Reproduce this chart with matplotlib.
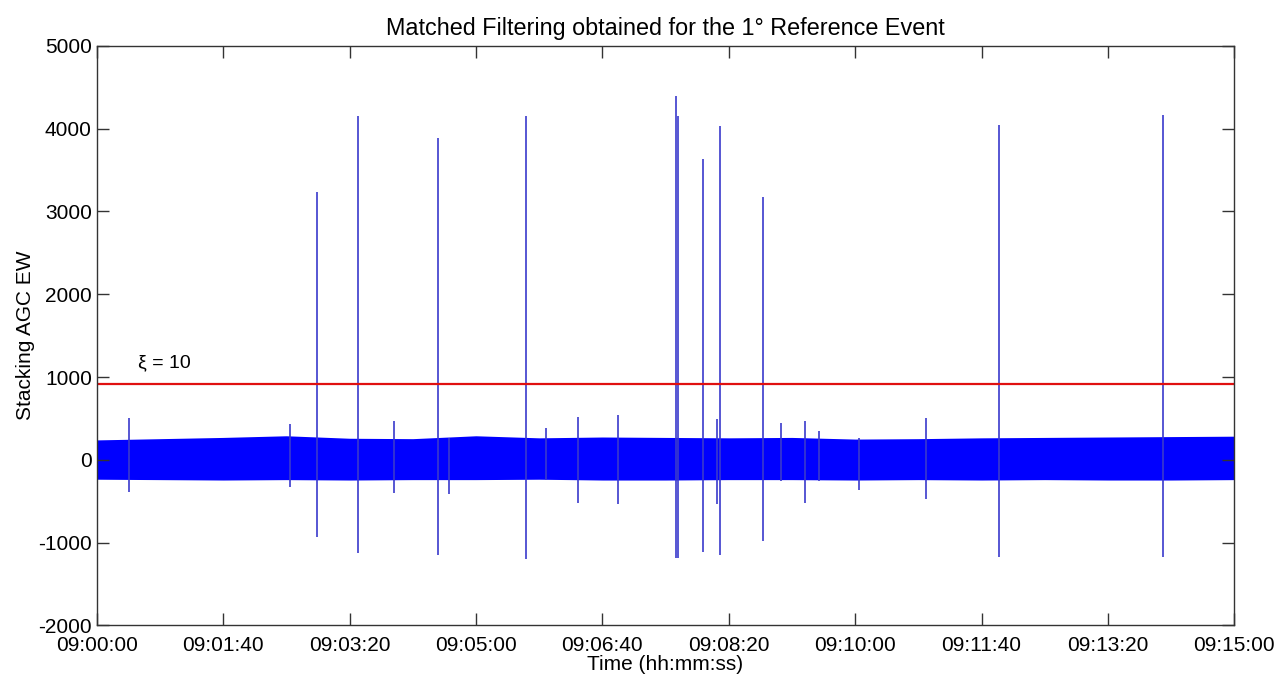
import matplotlib.pyplot as plt
import matplotlib.ticker as mticker

plt.rcParams['font.family'] = ['Liberation Sans', 'DejaVu Sans']
plt.rcParams['axes.unicode_minus'] = False

# time axis in seconds after 09:00:00
tick_secs = [0, 100, 200, 300, 400, 500, 600, 700, 800, 900]
tick_labels = ['09:00:00', '09:01:40', '09:03:20', '09:05:00', '09:06:40',
               '09:08:20', '09:10:00', '09:11:40', '09:13:20', '09:15:00']

# background noise band (outer envelope read every 50 s)
env_t = [0, 50, 100, 150, 200, 250, 300, 350, 400, 450,
         500, 550, 600, 650, 700, 750, 800, 850, 900]
env_hi = [240, 255, 270, 290, 260, 255, 290, 265, 275, 270,
          265, 270, 250, 255, 265, 270, 275, 280, 285]
env_lo = [-235, -240, -245, -240, -245, -240, -240, -235, -245, -245,
          -240, -240, -245, -240, -245, -240, -245, -245, -240]

# spikes: time (s), top value, bottom value
spike_t = [25.8, 152.9, 174.5, 207.0, 235.2, 270.3, 279.0, 339.6, 355.2, 380.8,
           412.4, 458.5, 460.1, 479.9, 491.0, 493.4, 526.9, 541.4, 560.1, 571.4,
           603.1, 656.1, 714.1, 843.8]
spike_hi = [500, 430, 3240, 4150, 470, 3890, 260, 4150, 380, 520,
            540, 4400, 4150, 3640, 490, 4030, 3170, 450, 470, 350,
            260, 500, 4040, 4160]
spike_lo = [-390, -330, -930, -1130, -400, -1150, -410, -1200, -250, -520,
            -530, -1190, -1190, -1120, -530, -1150, -985, -260, -520, -260,
            -370, -480, -1175, -1170]

threshold = 914
xi_value = 10

fig = plt.figure(figsize=(12.86, 6.79), dpi=100)
ax = fig.add_axes([0.0752, 0.0791, 0.8846, 0.8532])

ax.fill_between(env_t, env_lo, env_hi, color='#0000ff', linewidth=0)
ax.vlines(spike_t, spike_lo, spike_hi, color='#3a3acc', linewidth=1.2)
ax.axhline(threshold, color='#e01010', linewidth=1.6)
ax.text(33, 1170, '\u03be = %d' % xi_value, fontsize=14, va='center', ha='left')

ax.set_xlim(0, 900)
ax.set_ylim(-2000, 5000)
ax.set_xticks(tick_secs)
ax.set_xticklabels(tick_labels)
ax.yaxis.set_major_locator(mticker.MultipleLocator(1000))

ax.tick_params(direction='in', length=8.5, width=1, labelsize=15,
               top=True, right=True, color='#333333')
ax.tick_params(axis='x', pad=8)
for sp in ax.spines.values():
    sp.set_linewidth(1)
    sp.set_color('#333333')

ax.set_title('Matched Filtering obtained for the 1\u00b0 Reference Event',
             fontsize=16.8, pad=8)
ax.set_xlabel('Time (hh:mm:ss)', fontsize=15, labelpad=0)
ax.set_ylabel('Stacking AGC EW', fontsize=15, labelpad=2)

fig.savefig('out.png', dpi=100)
